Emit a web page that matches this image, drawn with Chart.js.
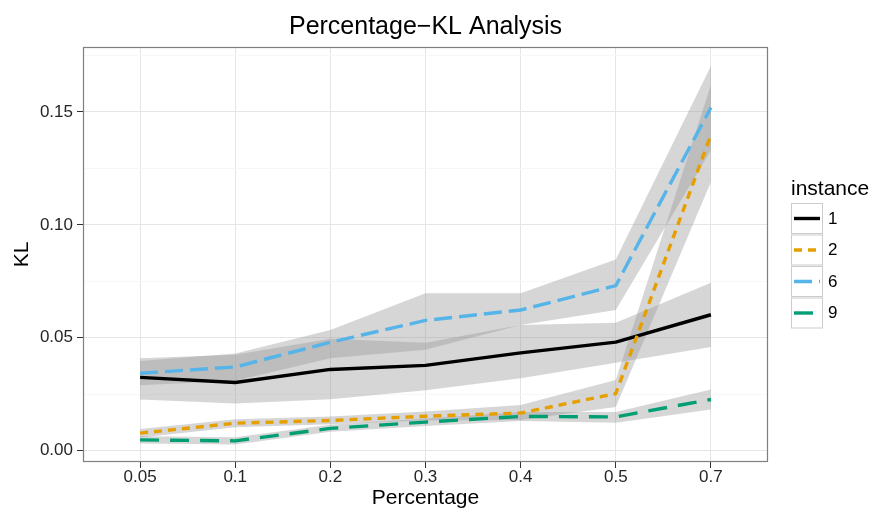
<!DOCTYPE html>
<html>
<head>
<meta charset="utf-8">
<script src="https://cdn.jsdelivr.net/npm/chart.js@4.4.1/dist/chart.umd.min.js"></script>
<style>
  html, body { margin: 0; padding: 0; background: #fff; }
</style>
</head>
<body>
<canvas id="klChart" width="874" height="514" style="width:874px;height:514px"></canvas>
<script>
// x categories
const percentages = ['0.05', '0.1', '0.2', '0.3', '0.4', '0.5', '0.7'];
const instances = ['1', '2', '6', '9'];

// mean KL per instance
const kl1 = [0.0325, 0.0302, 0.0360, 0.0378, 0.0433, 0.0481, 0.0602];
const kl2 = [0.0078, 0.0122, 0.0134, 0.0153, 0.0167, 0.0253, 0.1398];
const kl6 = [0.0343, 0.0371, 0.0480, 0.0577, 0.0623, 0.0731, 0.1519];
const kl9 = [0.0048, 0.0044, 0.0099, 0.0127, 0.0152, 0.0150, 0.0227];

// ribbon bounds
const kl1Low  = [0.0227, 0.0209, 0.0228, 0.0268, 0.0321, 0.0390, 0.0459];
const kl1High = [0.0410, 0.0425, 0.0496, 0.0478, 0.0557, 0.0567, 0.0744];
const kl2Low  = [0.0059, 0.0104, 0.0117, 0.0134, 0.0136, 0.0194, 0.1190];
const kl2High = [0.0096, 0.0140, 0.0152, 0.0174, 0.0203, 0.0313, 0.1620];
const kl6Low  = [0.0290, 0.0310, 0.0409, 0.0447, 0.0557, 0.0623, 0.1330];
const kl6High = [0.0397, 0.0430, 0.0534, 0.0697, 0.0697, 0.0847, 0.1703];
const kl9Low  = [0.0032, 0.0028, 0.0084, 0.0110, 0.0132, 0.0124, 0.0183];
const kl9High = [0.0064, 0.0060, 0.0115, 0.0143, 0.0172, 0.0172, 0.0271];

// y axis breaks
const yMajor = [0, 0.05, 0.10, 0.15];
const yMinor = [0.025, 0.075, 0.125, 0.175];
const yTickLabels = ['0.00', '0.05', '0.10', '0.15'];

const colors = ['#000000', '#E69F00', '#56B4E9', '#009E73'];
const dashes = [[], [8, 6], [18, 7], [19, 11]];
const means = [kl1, kl2, kl6, kl9];
const lows = [kl1Low, kl2Low, kl6Low, kl9Low];
const highs = [kl1High, kl2High, kl6High, kl9High];

const FONT = '"Liberation Sans", Arial, Helvetica, sans-serif';
const ribbonFill = 'rgba(153,153,153,0.4)';
const lineW = 3.4;

const toPts = arr => arr.map((y, i) => ({ x: i, y: y }));

const datasets = [];
// lines first (drawn on top via order)
instances.forEach((name, i) => {
  datasets.push({
    label: name,
    data: toPts(means[i]),
    borderColor: colors[i],
    borderWidth: lineW,
    borderDash: dashes[i],
    borderJoinStyle: 'round',
    pointRadius: 0,
    fill: false,
    tension: 0,
    order: 4 - i
  });
});
// ribbons underneath
instances.forEach((name, i) => {
  datasets.push({
    label: 'hi' + name,
    data: toPts(highs[i]),
    borderWidth: 0,
    borderColor: 'rgba(0,0,0,0)',
    backgroundColor: ribbonFill,
    pointRadius: 0,
    fill: '+1',
    tension: 0,
    order: 10
  });
  datasets.push({
    label: 'lo' + name,
    data: toPts(lows[i]),
    borderWidth: 0,
    borderColor: 'rgba(0,0,0,0)',
    pointRadius: 0,
    fill: false,
    tension: 0,
    order: 10
  });
});

const isMajor = v => yMajor.some(m => Math.abs(m - v) < 1e-9);

// ggplot-like border, titles and legend
const ggDecor = {
  id: 'ggDecor',
  afterDraw(chart) {
    const ctx = chart.ctx;
    const a = chart.chartArea;
    ctx.save();

    ctx.strokeStyle = '#7f7f7f';
    ctx.lineWidth = 1.2;
    ctx.strokeRect(a.left + 0.5, a.top + 0.5, a.right - a.left - 1, a.bottom - a.top - 1);

    ctx.fillStyle = '#000';
    ctx.textBaseline = 'middle';
    ctx.textAlign = 'center';
    ctx.font = '25px ' + FONT;
    ctx.fillText('Percentage\u2212KL Analysis', (a.left + a.right) / 2, 27);

    ctx.font = '21px ' + FONT;
    ctx.fillText('Percentage', (a.left + a.right) / 2, 498);

    ctx.save();
    ctx.translate(22, (a.top + a.bottom) / 2);
    ctx.rotate(-Math.PI / 2);
    ctx.fillText('KL', 0, 0);
    ctx.restore();

    // legend
    ctx.textAlign = 'left';
    ctx.font = '21px ' + FONT;
    ctx.fillText('instance', 791, 189);
    ctx.font = '17px ' + FONT;
    instances.forEach((name, i) => {
      const y0 = 203 + i * 31.5;
      ctx.fillStyle = '#fff';
      ctx.fillRect(791, y0, 32, 31);
      ctx.strokeStyle = '#cccccc';
      ctx.lineWidth = 1;
      ctx.setLineDash([]);
      ctx.strokeRect(791.5, y0 + 0.5, 31, 30);
      ctx.strokeStyle = colors[i];
      ctx.lineWidth = lineW;
      ctx.setLineDash(dashes[i]);
      ctx.beginPath();
      ctx.moveTo(794, y0 + 15.5);
      ctx.lineTo(820, y0 + 15.5);
      ctx.stroke();
      ctx.setLineDash([]);
      ctx.fillStyle = '#000';
      ctx.fillText(name, 828, y0 + 16);
    });
    ctx.restore();
  }
};

new Chart(document.getElementById('klChart'), {
  type: 'line',
  data: { datasets: datasets },
  plugins: [ggDecor],
  options: {
    responsive: false,
    devicePixelRatio: 1,
    animation: false,
    layout: { padding: { top: 47, right: 106, left: 0, bottom: 0 } },
    plugins: {
      legend: { display: false },
      title: { display: false },
      tooltip: { enabled: false }
    },
    scales: {
      x: {
        type: 'linear',
        bounds: 'data',
        min: -0.6,
        max: 6.6,
        afterBuildTicks: s => { s.ticks = percentages.map((p, i) => ({ value: i })); },
        afterFit: s => { s.height = 52; },
        ticks: {
          callback: v => percentages[v],
          color: '#262626',
          font: { family: FONT, size: 17 },
          padding: -1,
          maxRotation: 0,
          autoSkip: false
        },
        grid: { color: '#e5e5e5', tickColor: '#333', tickLength: 6, lineWidth: 1 },
        border: { display: false }
      },
      y: {
        type: 'linear',
        bounds: 'data',
        min: -0.00497,
        max: 0.1787,
        afterBuildTicks: s => {
          s.ticks = yMajor.concat(yMinor).sort((p, q) => p - q).map(v => ({ value: v }));
        },
        afterFit: s => { s.width = 83; },
        ticks: {
          callback: v => {
            const k = yMajor.findIndex(m => Math.abs(m - v) < 1e-9);
            return k >= 0 ? yTickLabels[k] : '';
          },
          color: '#262626',
          font: { family: FONT, size: 17 },
          padding: 4,
          autoSkip: false
        },
        grid: {
          color: c => (c.tick && isMajor(c.tick.value)) ? '#e5e5e5' : '#f7f7f7',
          tickColor: c => (c.tick && isMajor(c.tick.value)) ? '#333' : 'rgba(0,0,0,0)',
          tickLength: 6,
          lineWidth: 1
        },
        border: { display: false }
      }
    }
  }
});
</script>
</body>
</html>
